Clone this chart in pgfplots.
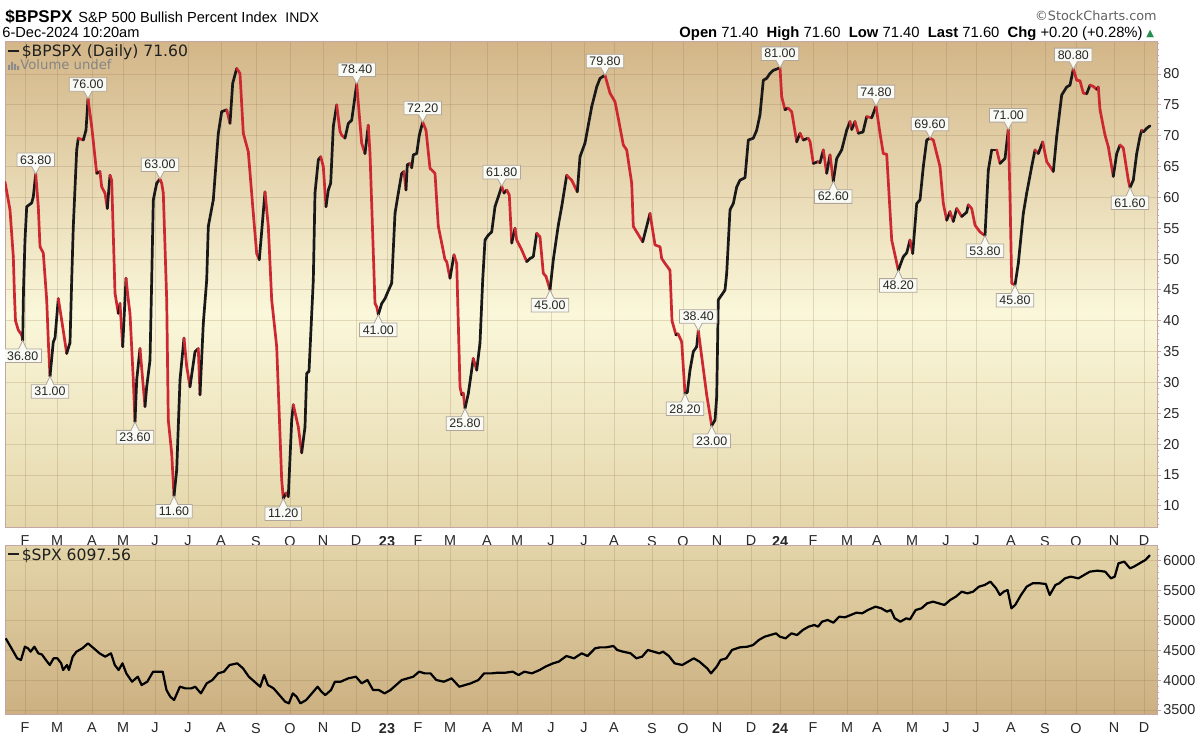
\documentclass[border=0pt]{standalone}
\usepackage{fontspec}
\setmainfont{Liberation Sans}
\newfontfamily\dvs{DejaVu Sans}
\usepackage{pgfplots}
\pgfplotsset{compat=1.18}
\usepackage{pgfplotstable}
\usetikzlibrary{shapes.callouts}

\definecolor{framec}{RGB}{196,166,166}
\definecolor{gridc}{RGB}{140,110,70}
\definecolor{lblfill}{RGB}{250,250,244}
\definecolor{lbldraw}{RGB}{175,165,155}
\definecolor{tickc}{RGB}{40,40,40}
\definecolor{upgreen}{RGB}{40,140,80}
\definecolor{bgA}{RGB}{228,214,170}
\definecolor{bgB}{RGB}{250,247,218}
\definecolor{bgC}{RGB}{211,182,136}
\definecolor{bgD}{RGB}{227,213,169}
\definecolor{bgE}{RGB}{204,176,130}
\pgfdeclareverticalshading{bgtop}{100bp}{color(0bp)=(bgA); color(25bp)=(bgA); color(47bp)=(bgB); color(75bp)=(bgC); color(100bp)=(bgC)}

\newcommand\tickfont{\fontsize{7.2}{8}\selectfont}
\newcommand\lblfont{\fontsize{6.2}{7}\selectfont}

\tikzset{
  pklab/.style={rectangle callout, draw=lbldraw, fill=lblfill, line width=0.4pt,
    inner xsep=1.6pt, inner ysep=1.2pt, font=\lblfont, text=black!85,
    callout pointer width=4pt},
}
\newcommand\pk[3]{\node[pklab, anchor=south, callout absolute pointer={(axis cs:#1,#2)}] at ([yshift=3.5pt]axis cs:#1,#2) {#3};}
\newcommand\tr[3]{\node[pklab, anchor=north, callout absolute pointer={(axis cs:#1,#2)}] at ([yshift=-4pt]axis cs:#1,#2) {#3};}

% $BPSPX daily: x = horizontal (time) position, y = index value, c = 1 rising (black) / 0 falling (red)
\pgfplotstableread{
x y c
5 62.5 0
10 58.0 0
13.3 50.4 0
14.5 44.0 0
15.5 40.0 0
18.3 38.5 0
21.7 37.7 0
22.7 36.8 1
23.5 45.0 1
25 53.1 1
26.7 58.5 1
31.7 59.1 1
33.3 60.1 1
35.7 63.8 0
38.3 58.5 0
40 52.0 0
43.3 51.0 0
46.7 43.4 0
48.5 36.0 0
50 31.0 1
53.3 36.6 1
55 37.2 1
58.3 43.6 0
61.7 40.1 0
66.7 34.7 1
68.3 35.6 1
70 36.4 1
71.7 46.6 1
73.3 55.3 1
76.7 67.7 1
78.3 69.6 0
83.3 69.3 1
86 70.9 1
88 76.0 0
91.7 71.5 0
96.7 63.9 1
100 64.2 0
101.7 61.7 0
105 60.7 0
107.3 58.2 1
110 63.6 0
111.7 62.8 0
115 44.5 0
118.3 41.2 1
120 42.8 0
122.7 35.8 1
126 46.9 0
128.3 43.4 0
130 41.2 0
133.3 30.4 0
135 23.6 1
136.7 30.4 1
140 35.5 0
145 26.1 1
146.7 29.3 1
150 33.6 1
151.7 46.6 1
153.3 59.6 1
156.7 62.3 1
160 63.0 0
161.7 62.3 0
163.3 60.7 0
166.7 43.4 0
168.3 23.9 0
171.7 18.5 0
174 11.6 1
176.7 15.8 1
180 30.4 1
184 37.2 0
186.7 32.6 0
190 29.3 1
195 35.0 1
198.3 35.5 0
200 28.0 1
203.3 39.6 1
206.7 46.6 1
208.3 55.3 1
213.3 59.6 1
218.3 70.4 1
221.7 73.9 1
226.7 74.2 0
230 72.0 1
232.7 78.5 1
236.7 80.9 0
240 80.1 0
243.3 70.4 0
248.3 67.4 0
253.3 57.4 0
256.7 50.9 0
259.3 49.9 1
265 60.9 0
268.3 55.3 0
271.7 43.4 0
276.7 35.8 0
281.7 14.2 0
283.3 11.2 1
286 12.1 0
288.3 11.5 1
291.7 23.9 1
293.3 26.4 0
298.3 22.8 0
301.7 18.6 1
305 22.8 1
306.7 31.5 1
309 31.8 1
313.3 46.6 1
315 60.7 1
318.3 66.1 1
320.7 66.6 0
323.3 65.0 0
326 58.5 1
328.3 61.2 1
330.7 62.3 1
333.3 71.5 1
336.7 75.0 0
340 70.7 0
341.7 70.1 0
345 69.6 1
348.3 72.0 1
351.7 72.5 1
356.7 78.4 0
360 72.0 0
361.7 68.8 0
365 67.1 1
368.3 71.7 0
370 67.1 0
375 42.8 0
376.7 42.3 0
378.3 41.0 1
381.7 42.8 1
385 43.6 1
387.3 44.5 1
391.7 46.1 1
395 57.4 1
398.3 60.7 1
401.7 63.9 1
404 64.2 0
406 61.2 1
407.3 65.3 1
410 65.5 0
411.7 64.8 1
413.3 66.9 1
416.7 67.1 1
419.3 70.1 1
422.7 72.2 0
426 70.9 0
430 64.7 0
433.3 64.2 0
435 63.9 0
438.3 55.3 0
441.7 52.6 0
445 49.9 0
446.7 49.6 0
450 46.9 1
454 50.7 0
456.7 49.3 0
460 29.3 0
461.7 28.0 1
463.3 28.3 0
465 25.8 1
468.3 28.2 1
470.7 30.9 1
473.3 33.9 0
476.7 32.0 1
480 36.4 1
482.7 46.6 1
485 53.1 1
488.3 53.9 1
491.7 54.4 1
495 58.5 1
498.3 60.1 1
501.7 61.8 0
504 60.7 1
506.7 61.2 0
509.3 60.4 0
511.7 52.6 1
515 55.0 0
516.7 53.1 0
521.7 51.5 0
526.7 49.6 1
530 50.1 1
533.3 50.4 1
536.7 54.2 0
540 53.6 0
543.3 47.7 0
546 47.2 0
550 45.0 1
553.3 49.9 1
558.3 55.5 1
561.7 58.5 1
566.7 63.6 0
571.7 62.8 0
577.3 60.9 1
580 66.6 1
585 68.8 1
591.7 74.7 1
596.7 77.9 1
600 79.3 1
605 79.8 0
610 76.9 0
615 75.5 0
618.3 72.8 0
623.3 68.5 0
626.7 67.7 0
631.7 62.3 0
633.3 55.3 0
636.7 54.4 0
642.7 52.8 1
650 57.4 0
655 52.3 0
660 52.0 0
661.7 50.1 0
665 49.3 0
670 48.2 0
672 40.0 0
676 37.7 1
678 37.9 0
681.7 36.6 0
685 28.2 1
687.3 28.4 1
690 32.0 1
693.3 35.0 1
696.7 35.8 1
698.3 38.4 0
701.7 34.2 0
706.7 28.0 0
711.7 23.0 1
715 23.9 1
716.7 27.7 1
718.3 43.4 1
721.7 44.2 1
725 45.0 1
726.7 47.7 1
730 58.0 1
733.3 59.0 1
736.7 61.7 1
740 62.8 1
745 63.2 1
748.3 69.3 1
753.3 69.6 1
756.7 70.9 1
760 73.4 1
763.3 79.0 1
766.7 79.3 1
770 80.1 1
773.3 80.6 1
780 81.0 0
781.7 76.3 0
785 74.2 1
788 74.5 0
791.7 73.9 0
796.7 69.0 1
800 70.4 0
803.3 69.3 1
808 69.6 0
810 69.1 0
813.3 65.5 1
818 65.8 0
820 65.6 1
823.3 67.7 0
826.7 63.9 1
830 66.9 0
833.3 62.6 1
836.7 66.3 1
841.7 67.7 1
846.7 70.9 1
850 72.3 0
851.7 71.0 1
855 72.3 0
858.3 70.4 1
863 70.6 1
866.7 73.1 0
871.7 72.9 1
876 74.8 0
880 70.4 0
883.3 67.1 0
886.7 67.0 0
891.7 53.1 0
898.3 48.2 1
903.3 50.4 1
906.7 51.0 1
910 53.1 0
912.7 50.9 1
916.7 59.0 1
920 59.6 1
923.3 65.0 1
926.7 69.3 1
930 69.6 0
933.3 69.3 0
936.7 67.1 0
940 65.0 0
943.3 59.0 0
946.7 56.3 1
950 57.7 0
953.3 56.1 1
956.7 58.2 0
961.7 56.9 1
966.7 57.6 1
968.3 58.8 0
971.7 58.2 0
975 55.5 0
980 54.4 0
985 53.8 1
988.3 64.4 1
991.7 67.7 1
996.7 67.7 0
1000 65.5 1
1005 66.3 1
1008.3 71.0 0
1010 60.1 0
1011.7 46.1 0
1015 45.8 1
1018.3 49.3 1
1023.3 57.4 1
1026.7 60.7 1
1031.7 65.0 1
1035 67.7 0
1038.3 67.1 1
1042.7 69.0 0
1046.7 65.8 0
1053.3 64.2 1
1056.7 69.9 1
1061.7 76.6 1
1066.7 77.9 1
1070 78.2 1
1073.3 80.8 0
1076.7 79.0 0
1080 78.9 0
1083.3 76.9 0
1086.7 76.8 1
1090 78.2 0
1093.3 78.0 0
1096.7 77.5 1
1098.3 77.9 0
1100 74.2 0
1105 70.1 0
1108.3 68.2 0
1113.3 63.4 1
1116.7 67.1 1
1120 68.5 0
1123.3 68.0 0
1128.3 62.8 0
1130 61.6 1
1133.3 62.8 1
1136.7 67.1 1
1140 69.9 1
1141.7 70.9 0
1143.3 70.6 1
1146.7 71.2 1
1150 71.6 1
}\bpspx

% $SPX daily close
\pgfplotstableread{
x y
5.7 4702
11.5 4535
17.2 4367
21 4339
24.9 4562
28 4535
30.6 4479
34.4 4562
38.3 4451
42 4430
45.9 4339
49.8 4255
53.6 4367
57.4 4367
61.2 4283
63.1 4171
67 4255
68.9 4171
72.7 4395
76.5 4479
82.3 4535
88 4618
93.8 4535
99.5 4451
105.2 4395
111 4451
114.8 4255
118.6 4171
122.5 4283
126.3 4115
132 3975
137.8 4059
141.6 3919
147.3 3975
153.1 4143
158.8 4143
162.7 4143
166.5 3835
170.3 3723
174.1 3668
179.9 3891
185.6 3863
191.4 3863
195.2 3891
200.9 3779
206.7 3947
212.4 4003
218.1 4115
223.9 4143
229.6 4255
237.3 4283
243 4199
248.8 4059
254.5 3975
260.2 3891
264.1 4087
267.9 3919
273.6 3863
279.4 3751
285.1 3640
288.9 3612
292.8 3779
296.6 3723
300.4 3612
306.2 3668
311.9 3779
317.6 3891
321.5 3807
325.3 3751
331 3835
334.9 3975
340.6 3975
348.3 4031
355.9 4059
361.7 3947
367.4 4003
373.1 3835
378.9 3835
384.6 3779
390.4 3835
396.1 3919
401.8 4003
407.6 4031
413.3 4059
419.1 4143
424.8 4115
430.5 4115
436.3 4003
443.9 3975
451.6 4031
459.2 3891
465 3919
470.7 3947
478.4 4003
484.1 4115
491.8 4115
497.5 4126
505.2 4126
512.8 4143
518.6 4087
524.3 4143
531.9 4115
539.6 4171
545.4 4227
553 4283
558.7 4311
566.4 4406
574 4367
581.7 4451
587.5 4406
595.1 4535
600 4551
606 4551
613.4 4574
617.2 4507
623 4479
630.6 4451
636.4 4367
642.1 4395
647.8 4507
653.6 4479
659.3 4451
663.1 4479
668.9 4406
674.6 4283
682.3 4255
688 4311
693.8 4367
699.5 4311
703.3 4255
707.2 4199
711 4115
716.7 4227
720.6 4339
726.3 4367
732 4507
739.7 4551
747.3 4562
753.1 4590
758.8 4674
764.6 4730
770.3 4758
776 4786
779.9 4730
785.6 4702
791.4 4786
797.1 4758
802.8 4842
808.6 4898
814.3 4926
818.1 4898
822 4982
827.7 5010
833.4 4965
839.2 5066
844.9 5055
850.7 5094
856.4 5133
862.2 5122
867.9 5178
875.5 5234
881.3 5206
887 5150
890.9 5178
894.7 5038
900.4 4982
906.2 5038
910 5021
915.7 5178
921.5 5206
927.2 5290
933 5318
938.7 5290
944.4 5262
950.2 5346
955.9 5402
961.7 5485
967.4 5457
973.1 5485
978.9 5569
984.6 5597
990.4 5653
996.1 5541
999.9 5429
1003.7 5485
1007.6 5513
1011.4 5206
1015.2 5262
1021 5429
1026.7 5569
1032.5 5625
1040.1 5625
1045.8 5614
1049.7 5429
1055.4 5597
1059.2 5625
1065 5709
1070.7 5737
1078.4 5709
1084.1 5765
1089.9 5821
1097.5 5838
1105.2 5821
1110.9 5709
1114.7 5737
1118.5 5961
1124.3 5989
1130 5877
1133.9 5905
1139.6 5961
1145.4 6017
1150 6098
}\spx

\pgfplotsset{
  scpanel/.style={
    scale only axis, width=576pt, anchor=north west,
    xmin=5, xmax=1157,
    axis line style={draw=framec, line width=0.5pt},
    xtick={25,57,92,123,155,188,221,256,290,323,356,387,418,450,487,517,551,584,614,652,683,717,751,780,813,847,877,912,946,976,1011,1045,1076,1114,1144},
    xticklabels={F,M,A,M,J,J,A,S,O,N,D,\textbf{23},F,M,A,M,J,J,A,S,O,N,D,\textbf{24},F,M,A,M,J,J,A,S,O,N,D},
    xmajorgrids, ymajorgrids,
    major grid style={draw=gridc, draw opacity=0.22, line width=0.5pt},
    xtick style={draw=none},
    ytick style={draw=framec, line width=0.5pt},
    major tick length=2pt, minor tick length=1.2pt,
    tick align=outside,
    ytick pos=right, yticklabel pos=right, xtick pos=bottom,
    ticklabel style={font=\tickfont, text=tickc},
    xticklabel style={anchor=north, inner sep=0pt, yshift=-2.3pt},
    yticklabel style={anchor=west, inner sep=0pt, xshift=1pt},
    /pgf/number format/assume math mode=true,
    /pgf/number format/1000 sep={},
  }
}

\begin{document}
\begin{tikzpicture}
\fill[white] (0,0) rectangle (600pt,-369pt);
\path[use as bounding box] (0,0) rectangle (600pt,-369pt);

\begin{axis}[scpanel,
  at={(2.5pt,-21pt)}, height=242.5pt,
  ymin=6.58, ymax=85.19,
  ytick={10,15,...,80}, minor ytick={7,8,...,85},
  axis background/.style={shading=bgtop},
  colormap={bpcm}{rgb255(0cm)=(205,40,50) rgb255(1cm)=(25,25,25)},
  point meta min=0, point meta max=1,
]
\addplot[mesh, shader=flat corner, line width=1.35pt, line cap=round, line join=round, point meta=explicit]
  table[x=x, y=y, meta=c] {\bpspx};
\pk{35.7}{63.8}{63.80}
\tr{22.7}{36.8}{36.80}
\pk{88}{76.0}{76.00}
\tr{50}{31.0}{31.00}
\pk{160}{63.0}{63.00}
\tr{135}{23.6}{23.60}
\tr{174}{11.6}{11.60}
\tr{283.3}{11.2}{11.20}
\pk{356.7}{78.4}{78.40}
\tr{378.3}{41.0}{41.00}
\pk{422.7}{72.2}{72.20}
\tr{465}{25.8}{25.80}
\pk{501.7}{61.8}{61.80}
\tr{550}{45.0}{45.00}
\pk{605}{79.8}{79.80}
\tr{685}{28.2}{28.20}
\pk{698.3}{38.4}{38.40}
\tr{711.7}{23.0}{23.00}
\pk{780}{81.0}{81.00}
\tr{833.3}{62.6}{62.60}
\pk{876}{74.8}{74.80}
\tr{898.3}{48.2}{48.20}
\pk{930}{69.6}{69.60}
\tr{985}{53.8}{53.80}
\pk{1008.3}{71.0}{71.00}
\tr{1015}{45.8}{45.80}
\pk{1073.3}{80.8}{80.80}
\tr{1130}{61.6}{61.60}
\end{axis}

\begin{axis}[scpanel,
  at={(2.5pt,-272.5pt)}, height=84.5pt,
  ymin=3433, ymax=6268,
  ytick={3500,4000,...,6000}, minor ytick={3500,3600,...,6200},
  axis background/.style={top color=bgD, bottom color=bgE},
]
\addplot[black, line width=1.1pt, line join=round] table[x=x, y=y] {\spx};
\end{axis}

\begin{scope}[x=0.5pt, y=-0.5pt]
\node[anchor=base west, inner sep=0] at (5,23) {\fontsize{8.5}{10}\selectfont\bfseries \$BPSPX};
\node[anchor=base west, inner sep=0] at (78,23) {\fontsize{7.3}{9}\selectfont S\&P 500 Bullish Percent Index};
\node[anchor=base west, inner sep=0] at (285,23) {\fontsize{7}{9}\selectfont INDX};
\node[anchor=base west, inner sep=0] at (2,38) {\fontsize{7.3}{9}\selectfont 6-Dec-2024 10:20am};
\node[anchor=base east, inner sep=0, text=black!62] at (1157,21) {\dvs\fontsize{6.4}{8}\selectfont ©StockCharts.com};
\node[anchor=base east, inner sep=0] at (1143,38) {\fontsize{7.4}{9}\selectfont \textbf{Open} 71.40\ \ \textbf{High} 71.60\ \ \textbf{Low} 71.40\ \ \textbf{Last} 71.60\ \ \textbf{Chg} +0.20 (+0.28\%)};
\node[anchor=base west, inner sep=0, text=upgreen] at (1146,37) {\dvs\fontsize{5}{6}\selectfont ▲};
% panel legends
\node[anchor=base west, inner sep=0, text=black!88] at (8,57) {\dvs\fontsize{7.8}{9}\selectfont \rule[2.3pt]{5.5pt}{1.2pt}\hspace{1.2pt}\$BPSPX (Daily) 71.60};
\fill[black!45] (8,70) rectangle (10,65) (11,70) rectangle (13,62) (14,70) rectangle (16,64) (17,70) rectangle (19,66);
\node[anchor=base west, inner sep=0, text=black!48] at (20,70) {\dvs\fontsize{6.6}{8}\selectfont Volume undef};
\node[anchor=base west, inner sep=0, text=black!88] at (8,560) {\dvs\fontsize{7.8}{9}\selectfont \rule[2.3pt]{5.5pt}{1.2pt}\hspace{1.2pt}\$SPX 6097.56};
\end{scope}
\end{tikzpicture}
\end{document}
